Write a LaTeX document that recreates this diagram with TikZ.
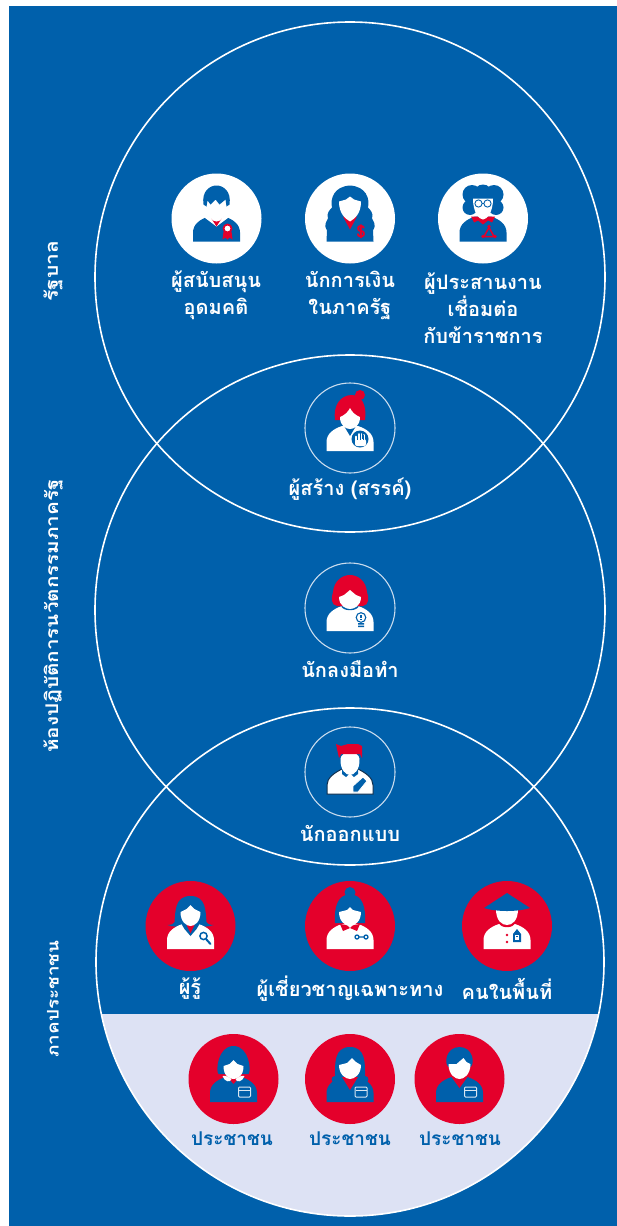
\documentclass[tikz,border=0pt]{standalone}
\usepackage{fontspec}
\setmainfont[Script=Thai]{Loma}
\newfontfamily\sidefont[Script=Thai,FakeStretch=1.18]{Loma}
\definecolor{bg}{HTML}{0060AB}
\definecolor{rd}{HTML}{E4002B}
\definecolor{lite}{HTML}{DDE2F4}
\definecolor{ring}{HTML}{C9DCEE}
\definecolor{dark}{HTML}{10304F}
\tikzset{
 x=1pt,y=-1pt,
 bigring/.style={draw=white,line width=1.6pt},
 whitedisc/.style={fill=white},
 reddisc/.style={fill=rd},
 ringdisc/.style={draw=ring,line width=1.1pt},
 lab/.style={font=\fontsize{20}{27}\selectfont\bfseries,text=white,align=center,inner sep=0pt},
 blab/.style={font=\fontsize{19}{24}\selectfont\bfseries,text=bg,align=center,inner sep=0pt},
 side/.style={text=white,rotate=90,inner sep=0pt},
}
% parts, coordinates relative to the icon centre
\newcommand{\bodyp}[1]{\fill[#1] (-23.5,23) -- (-23.5,14) .. controls (-23.5,6) and (-17,1) .. (-8,-2) -- (8,-2) .. controls (17,1) and (23.5,6) .. (23.5,14) -- (23.5,23) -- cycle;}
\newcommand{\facep}[1][0]{\fill[white,yshift=#1pt] (-9.5,-13) .. controls (-10,-2) and (-4,3) .. (0,3) .. controls (4,3) and (10,-2) .. (9.5,-13) .. controls (9,-22) and (-9,-22) .. (-9.5,-13) -- cycle;}
\newcommand{\cardp}[2]{\begin{scope}[shift={(#1,#2)}]\draw[draw=white!85!bg,fill=bg,line width=1pt,rounded corners=1pt] (-6,-5) rectangle (6,5);\fill[white!85!bg] (-5.5,-2.2) rectangle (5.5,-0.6);\end{scope}}
\begin{document}
\begin{tikzpicture}
\path[use as bounding box,fill=white] (0,0) rectangle (617,1226);
\fill[bg] (9,6) rectangle (617,1226);
% lit segment and rings
\begin{scope}
\clip (0,1014) rectangle (617,1226);
\fill[lite] (350,962) circle[radius=254];
\end{scope}
\node[bigring,circle,minimum size=510pt,inner sep=0pt] (gov) at (350,277) {};
\node[bigring,circle,minimum size=510pt,inner sep=0pt] (lab) at (350,610) {};
\node[bigring,circle,minimum size=508pt,inner sep=0pt] (pub) at (350,962) {};
% side labels
\node[side,font=\sidefont\fontsize{17.8}{24}\selectfont\bfseries] (s1) at (53,271) {รัฐบาล};
\node[side,font=\sidefont\fontsize{17.5}{24}\selectfont\bfseries] (s2) at (53,616) {ห้องปฏิบัติการนวัตกรรมภาครัฐ};
\node[side,font=\sidefont\fontsize{16}{24}\selectfont\bfseries] (s3) at (53,999) {ภาคประชาชน};
% discs
\foreach \n/\x/\y in {a/216.5/218.5,b/350/218.5,c/483/218.5}
  \node[whitedisc,circle,minimum size=90pt,inner sep=0pt] (\n) at (\x,\y) {};
\foreach \n/\x/\y in {d/350/428,e/350/608,f/350/772}
  \node[ringdisc,circle,minimum size=90pt,inner sep=0pt] (\n) at (\x,\y) {};
\foreach \n/\x/\y in {g/190.5/926,h/350/926,i/507/926,j/233.5/1079,k/350/1079,l/459.5/1079}
  \node[reddisc,circle,minimum size=90pt,inner sep=0pt] (\n) at (\x,\y) {};
% icon a
\begin{scope}[shift={(216.5,218.5)}]
\bodyp{bg}
\fill[white] (-12,-1) -- (-7,-5) -- (0,4) -- (7,-5) -- (12,-1) -- (0,8) -- cycle;
\fill[rd] (-7,-3) -- (7,-3) -- (0,8) -- cycle;
\facep
\fill[bg] (-13,-14) .. controls (-15,-27) and (-7,-33) .. (0,-33) .. controls (7,-33) and (15,-27) .. (13,-14) -- (10,-12) -- (9,-19) -- (3,-14) -- (-1,-19) -- (-6,-14) -- (-9,-18) -- (-10,-12) -- cycle;
\fill[rd] (7,13) -- (6,21) -- (9,19) -- (11,21) -- (13,19) -- (16,21) -- (15,13) -- cycle;
\draw[rd,line width=1.8pt,fill=white] (11,10) circle[radius=4];
\end{scope}
% icon b
\begin{scope}[shift={(350,218.5)}]
\fill[bg] (-23.5,23) -- (-23,12) .. controls (-27,7) and (-23,2) .. (-22,0) .. controls (-24,-5) and (-20,-9) .. (-18,-11) .. controls (-20,-20) and (-16,-32) .. (0,-33) .. controls (16,-32) and (20,-20) .. (18,-11) .. controls (20,-9) and (24,-5) .. (22,0) .. controls (23,2) and (27,7) .. (23,12) -- (23.5,23) -- cycle;
\fill[rd] (-7,-2) -- (7,-2) -- (0,11) -- cycle;
\fill[white] (-11,-17) -- (-4,-19) -- (0,-22) -- (4,-19) -- (11,-17) .. controls (11,-5) and (5,0) .. (0,3) .. controls (-5,0) and (-11,-5) .. (-11,-17) -- cycle;
\node[inner sep=0pt,text=rd,font=\fontsize{17}{17}\selectfont\bfseries] (bs) at (11,13) {\$};
\end{scope}
% icon c
\begin{scope}[shift={(483,218.5)}]
\bodyp{bg}
\fill[bg] (-11,-24) circle[radius=9.5] (11,-24) circle[radius=9.5] (-13,-11) circle[radius=7.5] (13,-11) circle[radius=7.5] (0,-25) circle[radius=9];
\fill[rd] (-12,-2) -- (12,-2) -- (9,4) -- (5,2) -- (0,6) -- (-5,2) -- (-9,4) -- cycle;
\fill[white] (-10,-20) -- (10,-20) .. controls (10,-6) and (4,1) .. (0,1) .. controls (-4,1) and (-10,-6) .. (-10,-20) -- cycle;
\draw[bg,line width=0.9pt] (-4.5,-15) circle[radius=3.6] (4.5,-15) circle[radius=3.6] (-1,-15) -- (1,-15);
\draw[rd,line width=1.5pt] (6,9) -- (11,18) -- (1,18) -- cycle;
\fill[rd] (6,8) circle[radius=1.8] (12,18) circle[radius=1.8] (0,18) circle[radius=1.8];
\end{scope}
% icon d
\begin{scope}[shift={(350,428)}]
\bodyp{white}
\fill[bg] (-6,-2) -- (6,-2) -- (0,8) -- cycle;
\fill[rd] (-15,-8) .. controls (-17,-22) and (-10,-33) .. (2,-33) .. controls (12,-33) and (17,-22) .. (15,-8) -- cycle;
\fill[rd] (10,-33) circle[radius=5];
\fill[white] (-10,-11) .. controls (-5,-13) and (-2,-16) .. (0,-20) .. controls (2,-16) and (5,-13) .. (10,-11) .. controls (10,-2) and (4,1) .. (0,1) .. controls (-4,1) and (-10,-2) .. (-10,-11) -- cycle;
\fill[bg] (10,11) circle[radius=8.5];
\fill[white,rounded corners=2pt] (5,11) rectangle (16,18);
\draw[white,line width=1.8pt,line cap=round] (6,12) -- (6,8.5) (8.7,12) -- (8.7,6) (11.4,12) -- (11.4,6) (14.1,12) -- (14.1,7);
\draw[bg,line width=0.5pt] (7.35,11.5) -- (7.35,7) (10.05,11.5) -- (10.05,7) (12.75,11.5) -- (12.75,7);
\end{scope}
% icon e
\begin{scope}[shift={(350,608)}]
\bodyp{white}
\fill[bg] (-9,-3) -- (9,-3) .. controls (9,4) and (-9,4) .. (-9,-3) -- cycle;
\fill[rd] (-13,-2) .. controls (-19,-3) and (-19,-10) .. (-17,-16) .. controls (-16,-27) and (-8,-33) .. (0,-33) .. controls (8,-33) and (16,-27) .. (17,-16) .. controls (19,-10) and (19,-3) .. (13,-2) -- cycle;
\fill[white] (-11,-11) -- (-6,-13) -- (0,-18) -- (6,-13) -- (11,-11) .. controls (11,-2) and (4,1) .. (0,1) .. controls (-4,1) and (-11,-2) .. (-11,-11) -- cycle;
\draw[bg,line width=1.1pt,fill=white] (11,9.5) circle[radius=4.8];
\draw[bg,line width=1.2pt] (11,7) -- (11,10) (11,11) -- (11,12);
\fill[bg] (8,15.2) rectangle (14,16.6) (8,17.6) rectangle (14,19);
\end{scope}
% icon f
\begin{scope}[shift={(350,772)}]
\fill[white,draw=dark,line width=1pt] (-23,22) -- (-23,13) .. controls (-23,6) and (-16,1) .. (-8,-3) -- (8,-3) .. controls (16,1) and (23,6) .. (23,13) -- (23,22) -- cycle;
\fill[bg] (-8,-3) -- (0,0) -- (8,-3) -- (8,2) -- (4,5) -- (0,1) -- (-4,5) -- (-8,2) -- cycle;
\facep
\fill[rd] (-11,-14) -- (-13,-23) -- (-14,-28) -- (-9,-26) -- (-2,-28) -- (8,-28) -- (12,-26) -- (12,-14) -- (10,-18) -- (-9,-18) -- cycle;
\fill[bg,draw=white,line width=0.8pt] (3,20) -- (3,14) -- (13,5) -- (17,9) -- (8,20) -- cycle;
\end{scope}
% icon g
\begin{scope}[shift={(190.5,926)}]
\fill[bg] (-16,-4) .. controls (-15,-14) and (-16,-30) .. (0,-30) .. controls (16,-30) and (15,-14) .. (16,-4) .. controls (18,-1) and (21,-1) .. (23,-1) .. controls (16,2) and (-16,2) .. (-23,-1) .. controls (-21,-1) and (-18,-1) .. (-16,-4) -- cycle;
\bodyp{white}
\fill[bg] (-9,-2) -- (9,-2) -- (6,3) -- (0,10) -- (-6,3) -- cycle;
\fill[rd] (-4,-1) -- (4,-1) -- (0,7) -- cycle;
\fill[white] (-10,-14) -- (-4,-17) -- (0,-21) -- (4,-17) -- (10,-14) .. controls (10,-4) and (4,0) .. (0,0) .. controls (-4,0) and (-10,-4) .. (-10,-14) -- cycle;
\draw[bg,line width=1.5pt] (13,10) circle[radius=3.6];
\draw[bg,line width=2pt,line cap=round] (15.5,13) -- (20,18);
\end{scope}
% icon h
\begin{scope}[shift={(350,926)}]
\fill[bg] (-15,-3) .. controls (-16,-18) and (-13,-31) .. (0,-32) .. controls (13,-31) and (16,-18) .. (15,-3) -- cycle;
\fill[bg] (0,-33.5) circle[radius=5.5];
\bodyp{white}
\fill[rd] (-10,-2) -- (-3,-1) -- (0,2) -- (3,-1) -- (10,-2) -- (7,5) -- (0,2) -- (-7,5) -- cycle;
\fill[white] (-11,-14) -- (-3,-16) -- (0,-19) -- (3,-16) -- (11,-14) .. controls (11,-4) and (4,0) .. (0,0) .. controls (-4,0) and (-11,-4) .. (-11,-14) -- cycle;
\draw[bg,line width=1.3pt] (7,11) circle[radius=2] (16,11) circle[radius=2] (9,11) -- (14,11);
\end{scope}
% icon i
\begin{scope}[shift={(507,926)}]
\bodyp{white}
\fill[rd] (-8,-4) -- (8,-4) .. controls (8,3) and (-8,3) .. (-8,-4) -- cycle;
\fill[white] (-11,-17) -- (11,-17) .. controls (11,-5) and (5,-1) .. (0,-1) .. controls (-5,-1) and (-11,-5) .. (-11,-17) -- cycle;
\fill[bg] (0,-33) -- (23,-18) .. controls (10,-14) and (-10,-14) .. (-23,-18) -- cycle;
\fill[rd] (0,9) circle[radius=1.3] (0,16) circle[radius=1.3];
\fill[bg] (6,8) -- (10,3) -- (14,8) -- (14,16) -- (6,16) -- cycle;
\fill[white] (8,9) rectangle (12,14);
\fill[bg] (9.2,9.8) rectangle (10.8,11.2);
\end{scope}
% icon j
\begin{scope}[shift={(233.5,1079)}]
\fill[bg] (-15,-5) .. controls (-18,-7) and (-16,-33) .. (0,-33) .. controls (16,-33) and (18,-7) .. (15,-5) -- cycle;
\bodyp{bg}
\fill[rd] (-7,-3) -- (7,-3) -- (0,5) -- cycle;
\fill[white] (-11,-3) .. controls (-7,-4) and (-4,-1) .. (-2,0) .. controls (-3,4) and (-9,3) .. (-11,-3) -- cycle (11,-3) .. controls (7,-4) and (4,-1) .. (2,0) .. controls (3,4) and (9,3) .. (11,-3) -- cycle;
\fill[white] (-10,-13) -- (-4,-15) -- (0,-19) -- (4,-15) -- (10,-13) .. controls (10,-3) and (4,0) .. (0,0) .. controls (-4,0) and (-10,-3) .. (-10,-13) -- cycle;
\cardp{11}{13}
\end{scope}
% icon k
\begin{scope}[shift={(350,1079)}]
\fill[bg] (-15,-3) .. controls (-15,-15) and (-16,-32) .. (0,-32) .. controls (16,-32) and (15,-15) .. (15,-3) .. controls (20,-3) and (19,4) .. (15,4) -- (-15,4) .. controls (-19,4) and (-20,-3) .. (-15,-3) -- cycle;
\bodyp{bg}
\fill[rd] (-8,-2) -- (8,-2) -- (0,11) -- cycle;
\fill[white] (-11,-14) -- (-3,-16) -- (2,-21) -- (6,-17) -- (11,-14) .. controls (11,-4) and (4,0) .. (0,0) .. controls (-4,0) and (-11,-4) .. (-11,-14) -- cycle;
\cardp{11}{13}
\end{scope}
% icon l
\begin{scope}[shift={(459.5,1079)}]
\bodyp{bg}
\fill[rd] (-8,-2) -- (8,-2) -- (0,9) -- cycle;
\fill[bg] (-11,-12) .. controls (-16,-16) and (-13,-32) .. (0,-32) .. controls (13,-32) and (16,-16) .. (11,-12) -- cycle;
\fill[white] (-11,-15) -- (-3,-15) -- (4,-21) -- (7,-17) -- (11,-15) .. controls (11,-4) and (4,0) .. (0,0) .. controls (-4,0) and (-11,-4) .. (-11,-15) -- cycle;
\cardp{11}{13}
\end{scope}
% labels
\node[lab] (la) at (216,295) {ผู้สนับสนุน\\อุดมคติ};
\node[lab] (lb) at (350,295) {นักการเงิน\\ในภาครัฐ};
\node[lab] (lc) at (483,308) {ผู้ประสานงาน\\เชื่อมต่อ\\กับข้าราชการ};
\node[lab] (ld) at (350,489) {ผู้สร้าง (สรรค์)};
\node[lab] (le) at (350,669) {นักลงมือทำ};
\node[lab] (lf) at (350,833) {นักออกแบบ};
\node[lab] (lg) at (190,989) {ผู้รู้};
\node[lab] (lh) at (350,989) {ผู้เชี่ยวชาญเฉพาะทาง};
\node[lab] (li) at (507,989) {คนในพื้นที่};
\node[blab] (lj) at (232,1139) {ประชาชน};
\node[blab] (lk) at (350,1139) {ประชาชน};
\node[blab] (ll) at (460,1139) {ประชาชน};
\end{tikzpicture}
\end{document}
